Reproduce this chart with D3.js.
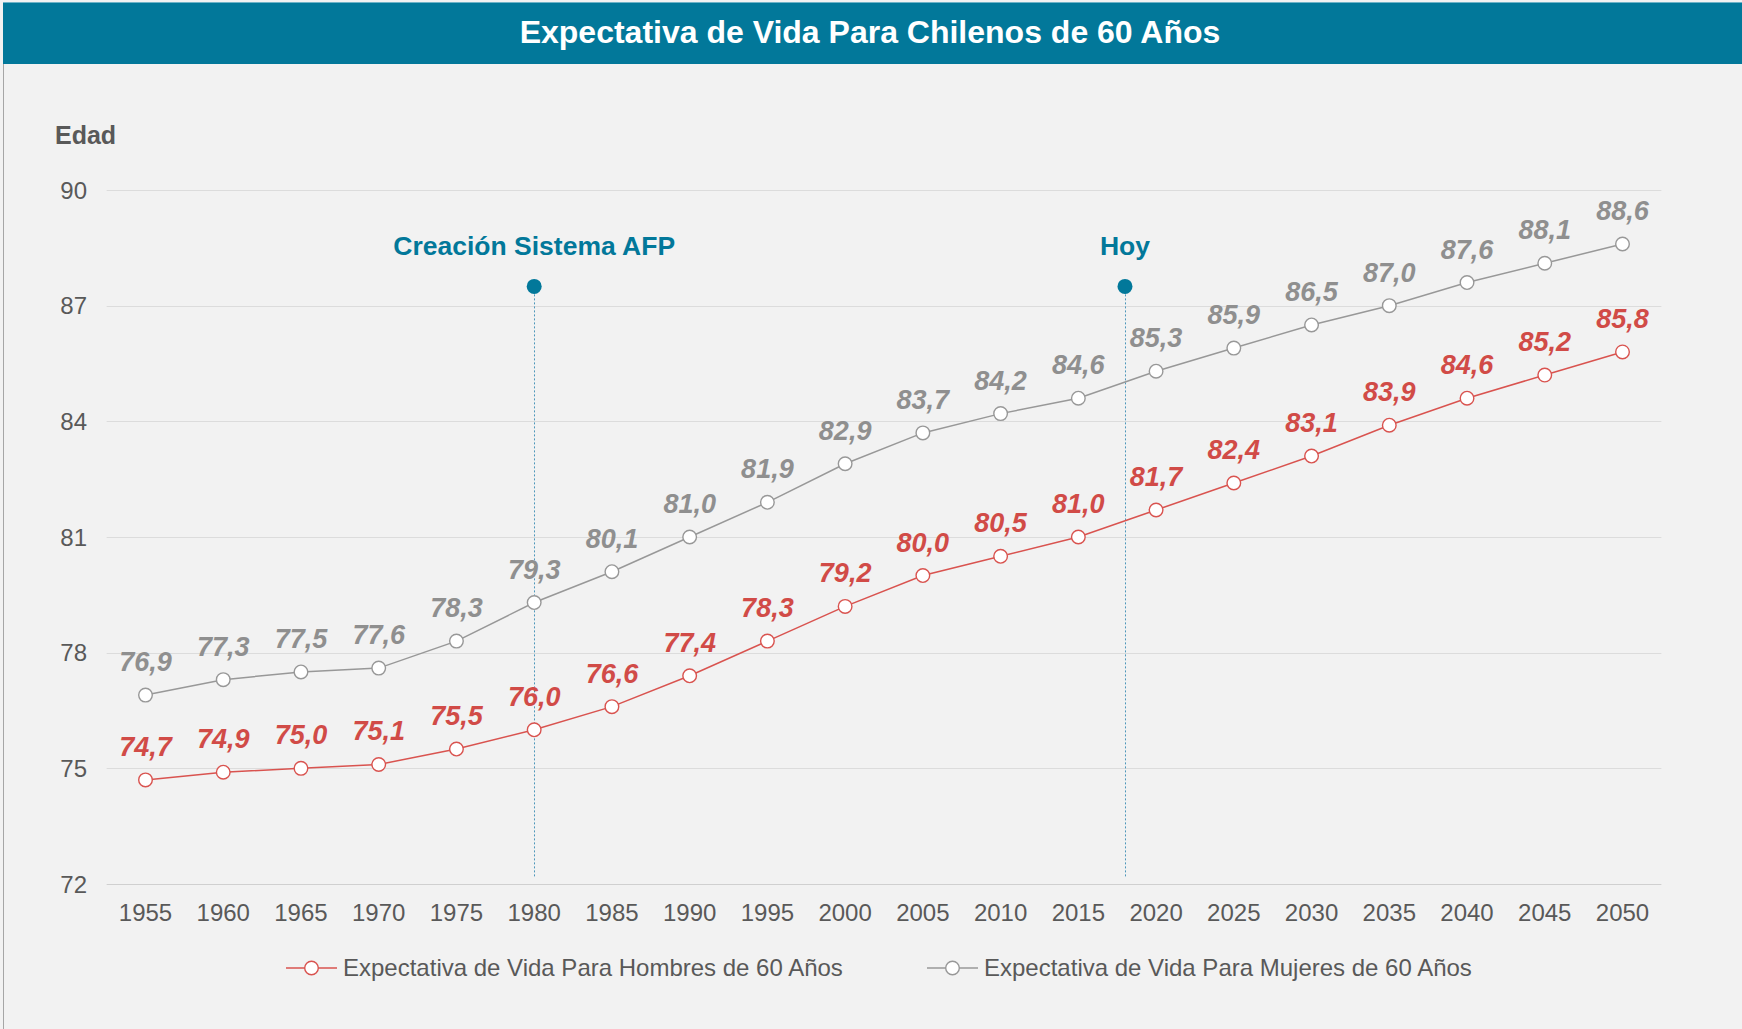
<!DOCTYPE html>
<html>
<head>
<meta charset="utf-8">
<script src="https://cdn.jsdelivr.net/npm/d3@7"></script>
<style>
  html, body { margin: 0; padding: 0; background: #f2f2f2; }
  svg { display: block; font-family: "Liberation Sans", Arial, sans-serif; }
</style>
</head>
<body>
<div id="chart"></div>
<script>
// Expectativa de vida a los 60 años
const years = [1955, 1960, 1965, 1970, 1975, 1980, 1985, 1990, 1995, 2000,
               2005, 2010, 2015, 2020, 2025, 2030, 2035, 2040, 2045, 2050];
const hombres = [74.7, 74.9, 75.0, 75.1, 75.5, 76.0, 76.6, 77.4, 78.3, 79.2,
                 80.0, 80.5, 81.0, 81.7, 82.4, 83.1, 83.9, 84.6, 85.2, 85.8];
const mujeres = [76.9, 77.3, 77.5, 77.6, 78.3, 79.3, 80.1, 81.0, 81.9, 82.9,
                 83.7, 84.2, 84.6, 85.3, 85.9, 86.5, 87.0, 87.6, 88.1, 88.6];
const yTicks = [72, 75, 78, 81, 84, 87, 90];
const markerYears = [1980, 2018];
const markerLabels = ['Creación Sistema AFP', 'Hoy'];
const markerLevel = 87.5;
const seriesNames = ['Expectativa de Vida Para Hombres de 60 Años',
                     'Expectativa de Vida Para Mujeres de 60 Años'];

const W = 1742, H = 1029;
const teal = '#02789a';
const colors = { line: ['#d9534f', '#989898'], label: ['#d14b47', '#8f8f8f'] };

const svg = d3.select('#chart').append('svg')
    .attr('width', W).attr('height', H);

svg.append('rect').attr('width', W).attr('height', H).attr('fill', '#f2f2f2');
// left border
svg.append('line')
    .attr('x1', 3.5).attr('x2', 3.5).attr('y1', 2).attr('y2', H)
    .attr('stroke', '#a6a6a6').attr('stroke-width', 1);

// title bar
svg.append('rect')
    .attr('x', 3).attr('y', 2).attr('width', W - 3).attr('height', 62)
    .attr('fill', teal);
svg.append('line')
    .attr('x1', 3).attr('x2', W).attr('y1', 2.5).attr('y2', 2.5)
    .attr('stroke', '#6fb3c8').attr('stroke-width', 1);
svg.append('text')
    .attr('x', 870).attr('y', 43)
    .attr('text-anchor', 'middle')
    .attr('fill', '#ffffff')
    .attr('font-size', 32).attr('font-weight', 'bold')
    .text('Expectativa de Vida Para Chilenos de 60 Años');

// scales
const x = d3.scaleLinear().domain([1955, 2050]).range([145.5, 1622.5]);
const y = d3.scaleLinear().domain([72, 90]).range([884, 190]);
const half = (x(1960) - x(1955)) / 2;
const left = x(1955) - half, right = x(2050) + half;

// gridlines
svg.append('g').selectAll('line').data(yTicks).join('line')
    .attr('x1', left).attr('x2', right)
    .attr('y1', d => Math.round(y(d)) + 0.5).attr('y2', d => Math.round(y(d)) + 0.5)
    .attr('stroke', d => d === 72 ? '#d0d0d0' : '#dcdcdc').attr('stroke-width', 1);

// y axis labels
svg.append('g').selectAll('text').data(yTicks).join('text')
    .attr('x', 87).attr('y', d => y(d) + 8.5)
    .attr('text-anchor', 'end')
    .attr('fill', '#595959').attr('font-size', 24)
    .text(d => d);

svg.append('text')
    .attr('x', 55).attr('y', 144)
    .attr('fill', '#595959').attr('font-size', 25).attr('font-weight', 'bold')
    .text('Edad');

// x axis labels
svg.append('g').selectAll('text').data(years).join('text')
    .attr('x', d => x(d)).attr('y', 921)
    .attr('text-anchor', 'middle')
    .attr('fill', '#595959').attr('font-size', 24)
    .text(d => d);

// event markers
markerYears.forEach((yr, i) => {
    const mx = Math.round(x(yr)) + 0.5;
    svg.append('line')
        .attr('x1', mx).attr('x2', mx)
        .attr('y1', y(markerLevel)).attr('y2', 878)
        .attr('stroke', '#4e97ba').attr('stroke-width', 1)
        .attr('stroke-dasharray', '2,2');
    svg.append('circle')
        .attr('cx', x(yr)).attr('cy', y(markerLevel)).attr('r', 7.5)
        .attr('fill', teal);
    svg.append('text')
        .attr('x', x(yr)).attr('y', 255)
        .attr('text-anchor', 'middle')
        .attr('fill', teal).attr('font-size', 26.5).attr('font-weight', 'bold')
        .text(markerLabels[i]);
});

// series
const fmt = d => d3.format('.1f')(d).replace('.', ',');
[mujeres, hombres].forEach(vals => {
    const k = vals === hombres ? 0 : 1;
    const pts = years.map((yr, i) => [yr, vals[i]]);
    const g = svg.append('g');
    g.append('path')
        .datum(pts)
        .attr('fill', 'none')
        .attr('stroke', colors.line[k]).attr('stroke-width', 1.5)
        .attr('d', d3.line().x(d => x(d[0])).y(d => y(d[1])));
    g.selectAll('circle').data(pts).join('circle')
        .attr('cx', d => x(d[0])).attr('cy', d => y(d[1])).attr('r', 6.8)
        .attr('fill', '#ffffff')
        .attr('stroke', colors.line[k]).attr('stroke-width', 1.4);
    g.selectAll('text').data(pts).join('text')
        .attr('x', d => x(d[0])).attr('y', d => y(d[1]) - 24)
        .attr('text-anchor', 'middle')
        .attr('fill', colors.label[k])
        .attr('font-size', 27).attr('font-weight', 'bold').attr('font-style', 'italic')
        .text(d => fmt(d[1]));
});

// legend
const legendX = [286, 927];
seriesNames.forEach((name, k) => {
    const lg = svg.append('g').attr('transform', `translate(${legendX[k]},968)`);
    lg.append('line').attr('x1', 0).attr('x2', 51).attr('y1', 0).attr('y2', 0)
        .attr('stroke', colors.line[k]).attr('stroke-width', 1.5);
    lg.append('circle').attr('cx', 25.5).attr('cy', 0).attr('r', 6.8)
        .attr('fill', '#ffffff')
        .attr('stroke', colors.line[k]).attr('stroke-width', 1.4);
    lg.append('text').attr('x', 57).attr('y', 8)
        .attr('fill', '#595959').attr('font-size', 24)
        .text(name);
});
</script>
</body>
</html>
